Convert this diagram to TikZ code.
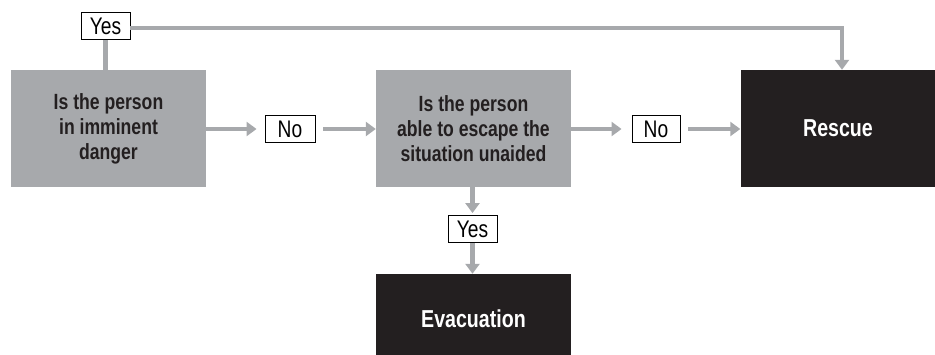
\documentclass[tikz,border=0pt]{standalone}
\usepackage{fontspec}
\setmainfont[FakeStretch=0.8]{Liberation Sans}
\usetikzlibrary{arrows.meta}
\definecolor{boxgray}{HTML}{A7A9AC}
\definecolor{boxblack}{HTML}{231F20}
\begin{document}
\begin{tikzpicture}[x=1pt,y=-1pt,
  question/.style={fill=boxgray,draw=none,minimum width=195pt,minimum height=117pt,align=center,
     font=\bfseries\fontsize{22}{25}\selectfont,text=boxblack,inner sep=0pt},
  outcome/.style={fill=boxblack,draw=none,minimum width=195pt,align=center,
     font=\bfseries\fontsize{24.5}{28}\selectfont,text=white,inner sep=0pt},
  answer/.style={fill=white,draw=black,line width=0.9pt,minimum height=27pt,inner sep=0pt,
     font=\fontsize{24}{26}\selectfont},
  flow/.style={draw=boxgray,line width=4.3pt,-{Triangle[width=14pt,length=10pt]}},
  link/.style={draw=boxgray,line width=4.3pt}]
\useasboundingbox (0,0) rectangle (935,354);
\node[question] (q1) at (108.5,128.5) {Is the person\\in imminent\\danger};
\node[question] (q2) at (473.5,128.5) {Is the person\\able to escape the\\situation unaided};
\node[outcome,minimum height=117pt] (rescue) at (838,128.5) {Rescue};
\node[outcome,minimum height=90pt] (evac) at (473.5,319) {Evacuation};
\node[answer,minimum width=49pt] (yes1) at (105.5,26) {Yes};
\node[answer,minimum width=50pt] (no1) at (290,129) {No};
\node[answer,minimum width=48pt] (no2) at (656,129) {No};
\node[answer,minimum width=49pt] (yes2) at (472.5,229) {Yes};
\coordinate (corner) at (842,28);
\draw[link] (q1.north -| yes1.south) -- (yes1.south);
\draw[flow] (yes1.east |- corner) -- (corner) -- (rescue.north -| corner);
\draw[flow,shorten >=8pt] (q1.east |- no1) -- (no1.west);
\draw[flow,shorten <=8pt] (no1.east) -- (q2.west |- no1);
\draw[flow,shorten >=10pt] (q2.east |- no2) -- (no2.west);
\draw[flow,shorten <=8pt] (no2.east) -- (rescue.west |- no2);
\draw[flow,shorten >=2pt] (q2.south -| yes2) -- (yes2.north);
\draw[flow] (yes2.south) -- (evac.north -| yes2);
\end{tikzpicture}
\end{document}
